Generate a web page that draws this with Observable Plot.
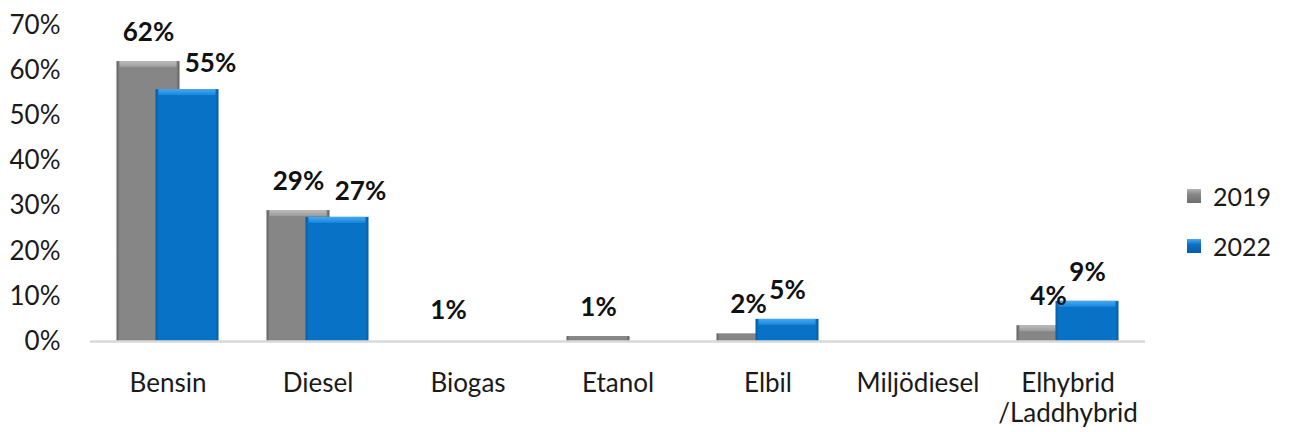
<!DOCTYPE html>
<html>
<head>
<meta charset="utf-8">
<script src="https://cdn.jsdelivr.net/npm/d3@7"></script>
<script src="https://cdn.jsdelivr.net/npm/@observablehq/plot@0.6"></script>
<style>
  html, body { margin: 0; padding: 0; background: #fff; }
  #wrap { position: relative; width: 1292px; height: 432px; font-family: Lato, "Open Sans", sans-serif; }
  .legend { position: absolute; left: 1187px; font-size: 25px; color: #1a1a1a; }
  .legend div { display: flex; align-items: center; height: 30px; }
  .sw { width: 14px; height: 14px; margin-right: 12px; box-sizing: border-box; }
</style>
</head>
<body>
<div id="wrap"></div>
<script>
const categories = ["Bensin", "Diesel", "Biogas", "Etanol", "Elbil", "Miljödiesel", "Elhybrid\n/Laddhybrid"];
const series = ["2019", "2022"];
const values2019 = [62, 29, 0.3, 1.1, 1.7, 0, 3.5];
const values2022 = [55.8, 27.5, 0, 0, 4.9, 0, 8.9];
const labels2019 = ["62%", "29%", "1%", "1%", "2%", "", "4%"];
const labels2022 = ["55%", "27%", "", "", "5%", "", "9%"];
const yTicks = [0, 10, 20, 30, 40, 50, 60, 70];

const rows = [];
categories.forEach((c, i) => {
  rows.push({cat: c, year: "2019", value: values2019[i], label: labels2019[i], idx: i});
  rows.push({cat: c, year: "2022", value: values2022[i], label: labels2022[i], idx: i});
});
const r19 = rows.filter(d => d.year === "2019");
const r22 = rows.filter(d => d.year === "2022");
const off = 19.5;
const shifted = d => d.idx <= 1; // labels Excel nudged right to avoid overlap

const chart = Plot.plot({
  width: 1292,
  height: 432,
  marginLeft: 90,
  marginRight: 147,
  marginTop: 25,
  marginBottom: 91,
  style: {fontFamily: "Lato, 'Open Sans', sans-serif", fontSize: "26px", color: "#1a1a1a", background: "transparent"},
  x: {domain: categories, paddingInner: 0.582, paddingOuter: 0.291, label: null},
  y: {domain: [0, 70], label: null},
  marks: [
    Plot.axisY({ticks: yTicks, tickFormat: d => d + "%", tickSize: 0, tickPadding: 30, fontSize: 26, fill: "#1a1a1a", label: null}),
    Plot.axisX({tickSize: 0, tickPadding: 29, fontSize: 26, lineHeight: 1.15, fill: "#1a1a1a", label: null}),
    Plot.barY(r19.filter(d => d.value >= 0.5), {x: "cat", y: "value", dx: -off, fill: "url(#g19)"}),
    Plot.barY(r19.filter(d => d.value >= 2), {x: "cat", y1: "value", y2: "value", dx: -off, insetBottom: -6, insetLeft: 3, insetRight: 3, fill: "url(#t19)"}),
    Plot.barY(r22.filter(d => d.value >= 0.5), {x: "cat", y: "value", dx: off, fill: "url(#g22)"}),
    Plot.barY(r22.filter(d => d.value >= 2), {x: "cat", y1: "value", y2: "value", dx: off, insetBottom: -6, insetLeft: 3, insetRight: 3, fill: "url(#t22)"}),
    Plot.ruleY([0], {stroke: "#d9d9d9", strokeWidth: 2.5}),
    Plot.text(r19.filter(d => d.label), {x: "cat", y: "value", text: "label", dx: -off, dy: -29, fontWeight: "bold", fontSize: 26, fill: "#111"}),
    Plot.text(r22.filter(d => d.label && !shifted(d)), {x: "cat", y: "value", text: "label", dx: off, dy: -29, fontWeight: "bold", fontSize: 26, fill: "#111"}),
    Plot.text(r22.filter(d => d.label && shifted(d)), {x: "cat", y: "value", text: "label", dx: off + 23, dy: -26, fontWeight: "bold", fontSize: 26, fill: "#111"})
  ]
});

const defs = `
<defs>
  <linearGradient id="g19" x1="0" x2="1" y1="0" y2="0">
    <stop offset="0" stop-color="#5e5e5e"/>
    <stop offset="0.05" stop-color="#868686"/>
    <stop offset="0.95" stop-color="#868686"/>
    <stop offset="1" stop-color="#5e5e5e"/>
  </linearGradient>
  <linearGradient id="t19" x1="0" x2="0" y1="0" y2="1">
    <stop offset="0" stop-color="#bdbdbd"/>
    <stop offset="1" stop-color="#9a9a9a"/>
  </linearGradient>
  <linearGradient id="g22" x1="0" x2="1" y1="0" y2="0">
    <stop offset="0" stop-color="#0a5aa0"/>
    <stop offset="0.05" stop-color="#0872c6"/>
    <stop offset="0.95" stop-color="#0872c6"/>
    <stop offset="1" stop-color="#0a5aa0"/>
  </linearGradient>
  <linearGradient id="t22" x1="0" x2="0" y1="0" y2="1">
    <stop offset="0" stop-color="#47a9f2"/>
    <stop offset="1" stop-color="#1787dc"/>
  </linearGradient>
</defs>`;
chart.insertAdjacentHTML("afterbegin", defs);

const wrap = document.getElementById("wrap");
wrap.appendChild(chart);
chart.style.position = "absolute";
chart.style.left = "0";
chart.style.top = "0";

const legend = document.createElement("div");
legend.className = "legend";
legend.style.top = "181px";
const swatch = {"2019": "linear-gradient(#b5b5b5, #868686 40%, #6e6e6e)", "2022": "linear-gradient(#4aa8f0, #0872c6 40%, #0a5aa0)"};
legend.innerHTML = series.map((s, i) =>
  `<div style="margin-bottom:${i === 0 ? 20 : 0}px"><span class="sw" style="background:${swatch[s]}"></span><span>${s}</span></div>`
).join("");
wrap.appendChild(legend);
</script>
</body>
</html>
